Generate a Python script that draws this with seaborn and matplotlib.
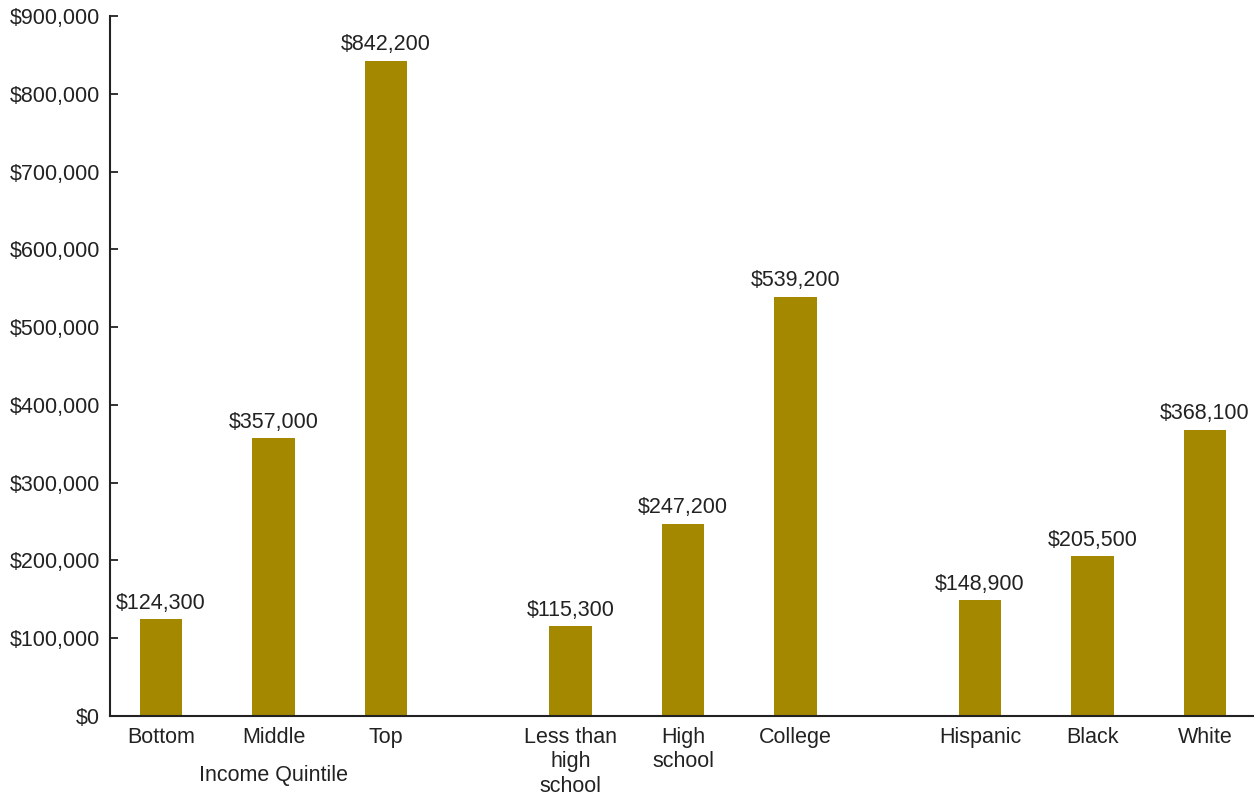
import pandas as pd
import matplotlib.pyplot as plt
import matplotlib.ticker as mticker
import seaborn as sns

sns.set_theme(style="white")
plt.rcParams["font.family"] = ["Liberation Sans", "DejaVu Sans"]

## DATA
categories = ["Bottom", "Middle", "Top",
              "Less than\nhigh\nschool", "High\nschool", "College",
              "Hispanic", "Black", "White"]
values = [124300, 357000, 842200, 115300, 247200, 539200, 148900, 205500, 368100]
# positions along the axis: three groups with a gap between them
positions = [0, 1, 2, 3.64, 4.64, 5.64, 7.28, 8.28, 9.28]
group_label = "Income Quintile"

df = pd.DataFrame({"pos": positions, "value": values, "label": categories})

BAR_COLOR = "#A38800"
TEXT_COLOR = "#222222"
FS = 15.5

fig = plt.figure(figsize=(12.54, 7.97), dpi=100)
ax = fig.add_axes([110 / 1254, 1 - 716 / 797, 1 - 110 / 1254, 700 / 797])

sns.barplot(data=df, x="pos", y="value", native_scale=True, width=0.375,
            color=BAR_COLOR, saturation=1, ax=ax, edgecolor="none")

ax.bar_label(ax.containers[0], labels=[f"${v:,.0f}" for v in values],
             padding=4, fontsize=FS, color=TEXT_COLOR)

ax.set_xlim(-0.453, 9.716)
ax.set_ylim(0, 900000)
ax.set_yticks(range(0, 900001, 100000))
ax.yaxis.set_major_formatter(mticker.FuncFormatter(lambda v, p: f"${v:,.0f}"))
ax.set_xticks(positions)
ax.set_xticklabels(categories, va="top", linespacing=1.2)

ax.tick_params(axis="y", direction="in", length=6, width=1.3, color=TEXT_COLOR,
               pad=7, labelsize=FS, labelcolor=TEXT_COLOR, left=True)
ax.tick_params(axis="x", length=0, pad=8, labelsize=FS, labelcolor=TEXT_COLOR)

ax.set_xlabel("")
ax.set_ylabel("")

sns.despine(ax=ax)
for side in ["left", "bottom"]:
    ax.spines[side].set_color(TEXT_COLOR)
    ax.spines[side].set_linewidth(1.5)

# group label under the first group
ax.text(positions[1], -0.07, group_label, transform=ax.get_xaxis_transform(),
        ha="center", va="top", fontsize=FS, color=TEXT_COLOR)

fig.savefig("out.png", dpi=100)
